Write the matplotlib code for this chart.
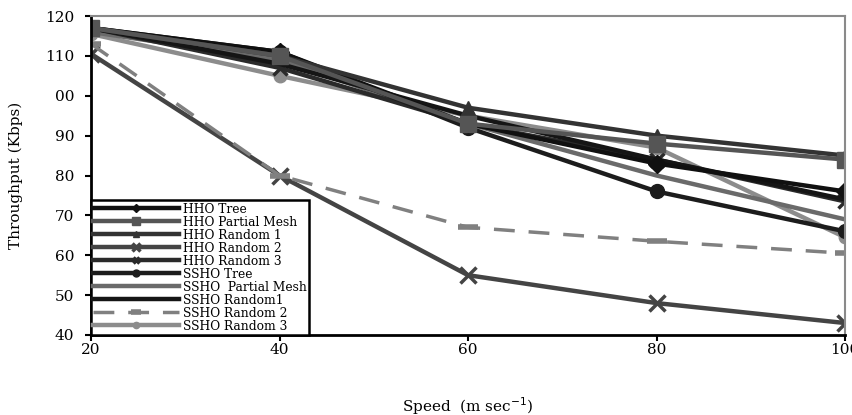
import matplotlib.pyplot as plt

plt.rcParams['font.family'] = ['DejaVu Serif', 'Liberation Serif']

speed = [20, 40, 60, 80, 100]

hho_tree = [117, 111, 93, 83, 76]
hho_partial_mesh = [117, 110, 93, 88, 84]
hho_random1 = [117, 110, 97, 90, 85]
hho_random2 = [110.5, 80, 55, 48, 43]
hho_random3 = [117, 107, 93, 84, 73.5]
ssho_tree = [117, 111, 92, 76, 66]
ssho_partial_mesh = [116, 109, 93, 80, 69]
ssho_random1 = [117, 108, 95, 84, 74]
ssho_random2 = [113, 80, 67, 63.5, 60.5]
ssho_random3 = [115.5, 105, 95, 87, 64.5]

y_ticks = [40, 50, 60, 70, 80, 90, 100, 110, 120]
y_tick_labels = ['40', '50', '60', '70', '80', '90', '00', '110', '120']

fig = plt.figure(figsize=(8.53, 4.15), dpi=100)
ax = fig.add_axes([0.1067, 0.1928, 0.884, 0.7686])

lw = 3.2
ax.plot(speed, hho_random2, color='#444444', lw=lw, marker='x', ms=11, mew=2.5, label='HHO Random 2')
ax.plot(speed, ssho_random2, color='#808080', lw=2.5, ls=(0, (6, 4)), marker='_', ms=14, mew=4,
        label='SSHO Random 2')
ax.plot(speed, ssho_random3, color='#8c8c8c', lw=lw, marker='o', ms=9, label='SSHO Random 3')
ax.plot(speed, ssho_partial_mesh, color='#6a6a6a', lw=lw, label='SSHO  Partial Mesh')
ax.plot(speed, hho_random3, color='#2a2a2a', lw=lw, marker='x', ms=10, mew=2.5, label='HHO Random 3')
ax.plot(speed, ssho_random1, color='#151515', lw=lw, marker='_', ms=8, label='SSHO Random1')
ax.plot(speed, ssho_tree, color='#1c1c1c', lw=lw, marker='o', ms=10, label='SSHO Tree')
ax.plot(speed, hho_tree, color='#101010', lw=lw, marker='D', ms=9, label='HHO Tree')
ax.plot(speed, hho_random1, color='#333333', lw=lw, marker='^', ms=10, label='HHO Random 1')
ax.plot(speed, hho_partial_mesh, color='#555555', lw=lw, marker='s', ms=12, label='HHO Partial Mesh')

ax.set_xlim(20, 100)
ax.set_ylim(40, 120)
ax.set_xticks(speed)
ax.set_xticklabels([str(s) for s in speed], fontsize=11)
ax.set_yticks(y_ticks)
ax.set_yticklabels(y_tick_labels, fontsize=11)
ax.tick_params(axis='x', direction='out', length=4, width=1.5, color='black', pad=2)
ax.tick_params(axis='y', direction='out', length=4, width=1.5, color='black', pad=8)

ax.spines['left'].set_linewidth(2)
ax.spines['bottom'].set_linewidth(2)
ax.spines['top'].set_color('#8a8a8a')
ax.spines['right'].set_color('#8a8a8a')
ax.spines['top'].set_linewidth(1.5)
ax.spines['right'].set_linewidth(1.5)

ax.set_ylabel('Throughput (Kbps)', fontsize=11, labelpad=16)
ax.set_xlabel('Speed  (m sec$^{-1}$)', fontsize=11, labelpad=27)

# legend order follows the original series list
handles, labels = ax.get_legend_handles_labels()
order = ['HHO Tree', 'HHO Partial Mesh', 'HHO Random 1', 'HHO Random 2', 'HHO Random 3',
         'SSHO Tree', 'SSHO  Partial Mesh', 'SSHO Random1', 'SSHO Random 2', 'SSHO Random 3']
lookup = dict(zip(labels, handles))
leg = ax.legend([lookup[k] for k in order], order, loc='lower left', bbox_to_anchor=(0, 0),
                borderaxespad=0, fontsize=8.8, labelspacing=0.0, handlelength=7.0,
                handletextpad=0.3, borderpad=0.2, markerscale=0.5, fancybox=False,
                framealpha=1, edgecolor='black')
leg.get_frame().set_linewidth(1.8)

fig.savefig('out.png', dpi=100)
